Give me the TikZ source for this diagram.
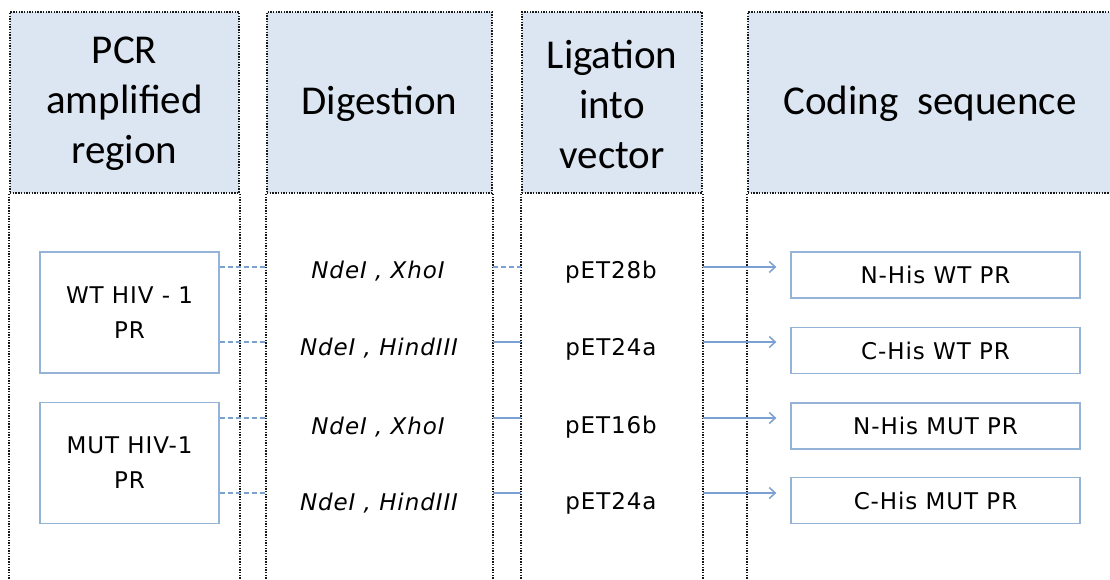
\documentclass[tikz,border=0pt]{standalone}
\usepackage{fontspec}
\setmainfont{Carlito}
\newfontfamily\bodyfont[LetterSpace=4]{DejaVu Sans}
\usetikzlibrary{arrows.meta}
\definecolor{hdrfill}{HTML}{DCE6F2}
\definecolor{lnblue}{HTML}{7BA0D4}
\definecolor{boxblue}{HTML}{95B3D7}
\tikzset{
  dotline/.style={line width=1.9pt, dash pattern=on 1.4pt off 1.3pt, black!90},
  hdr/.style={draw=black!90, line width=1.9pt, dash pattern=on 1.4pt off 1.3pt, fill=hdrfill,
    inner sep=0pt, minimum height=181pt},
  hdrtxt/.style={font=\fontsize{41}{50}\selectfont, align=center, inner sep=0pt, yshift=-1.5pt},
  srcbox/.style={draw=boxblue, line width=1.3pt, fill=white, align=center, inner sep=0pt,
    font=\bodyfont\fontsize{23}{35}\selectfont, minimum width=179pt, minimum height=121pt},
  outbox/.style={draw=boxblue, line width=1.3pt, fill=white, inner sep=0pt,
    font=\bodyfont\fontsize{23}{24}\selectfont, minimum width=289pt, minimum height=46pt},
  lbl/.style={font=\bodyfont\fontsize{23}{24}\selectfont, inner sep=0pt},
  ilbl/.style={font=\bodyfont\itshape\fontsize{23}{24}\selectfont, inner sep=0pt},
  dconn/.style={lnblue, line width=1.3pt, dash pattern=on 5pt off 3pt},
  sconn/.style={lnblue, line width=1.3pt},
  arr/.style={lnblue, line width=1.1pt, -{Straight Barb[length=6pt,width=11pt,line width=1.5pt]}, shorten >=14pt}
}
\begin{document}
\begin{tikzpicture}[x=1pt,y=-1pt]
\useasboundingbox (0,0) rectangle (1110,580);
\coordinate (bot) at (0,582);
% headers
\node[hdr, minimum width=229pt] (h1) at (124.5,102.5) {};
\node[hdr, minimum width=225pt] (h2) at (379.5,102.5) {};
\node[hdr, minimum width=180pt] (h3) at (612,102.5) {};
\node[hdr, minimum width=364pt] (h4) at (930,102.5) {};
\node[hdrtxt] (t1) at (h1.center) {PCR\\amplified\\region};
\node[hdrtxt] (t2) at (h2.center) {Digestion};
\node[hdrtxt] (t3) at (h3.center) {Ligation\\into\\vector};
\node[hdrtxt] (t4) at (h4.center) {Coding\ \ sequence};
% column lines
\draw[dotline] (h1.south west) -- (h1.south west |- bot);
\draw[dotline] (h1.south east) -- (h1.south east |- bot);
\draw[dotline] (h2.south west) -- (h2.south west |- bot);
\draw[dotline] (h2.south east) -- (h2.south east |- bot);
\draw[dotline] (h3.south west) -- (h3.south west |- bot);
\draw[dotline] (h3.south east) -- (h3.south east |- bot);
\draw[dotline] (h4.south west) -- (h4.south west |- bot);
% rows
\coordinate (r1) at (0,267);
\coordinate (r2) at (0,342);
\coordinate (r3) at (0,418);
\coordinate (r4) at (0,493);
% source boxes
\node[srcbox] (wt) at (129.5,312.5) {WT HIV - 1\\PR};
\node[srcbox] (mut) at (129.5,463) {MUT HIV-1\\PR};
% digestion labels
\node[ilbl] (d1) at (378,271) {NdeI , XhoI};
\node[ilbl] (d2) at (379,348) {NdeI , HindIII};
\node[ilbl] (d3) at (378,427) {NdeI , XhoI};
\node[ilbl] (d4) at (379,503) {NdeI , HindIII};
% ligation labels
\node[lbl] (l1) at (611,272) {pET28b};
\node[lbl] (l2) at (611,349) {pET24a};
\node[lbl] (l3) at (611,427) {pET16b};
\node[lbl] (l4) at (611,503) {pET24a};
% outputs
\node[outbox] (o1) at (935.5,275) {N-His WT PR};
\node[outbox] (o2) at (935.5,350.5) {C-His WT PR};
\node[outbox] (o3) at (935.5,426) {N-His MUT PR};
\node[outbox] (o4) at (935.5,500.5) {C-His MUT PR};
% connectors
\draw[dconn] (wt.east |- r1) -- (h2.south west |- r1);
\draw[dconn] (wt.east |- r2) -- (h2.south west |- r2);
\draw[dconn] (mut.east |- r3) -- (h2.south west |- r3);
\draw[dconn] (mut.east |- r4) -- (h2.south west |- r4);
\draw[dconn] (h2.south east |- r1) -- (h3.south west |- r1);
\draw[sconn] (h2.south east |- r2) -- (h3.south west |- r2);
\draw[sconn] (h2.south east |- r3) -- (h3.south west |- r3);
\draw[sconn] (h2.south east |- r4) -- (h3.south west |- r4);
\draw[arr] (h3.south east |- r1) -- (o1.west |- r1);
\draw[arr] (h3.south east |- r2) -- (o2.west |- r2);
\draw[arr] (h3.south east |- r3) -- (o3.west |- r3);
\draw[arr] (h3.south east |- r4) -- (o4.west |- r4);
\end{tikzpicture}
\end{document}
